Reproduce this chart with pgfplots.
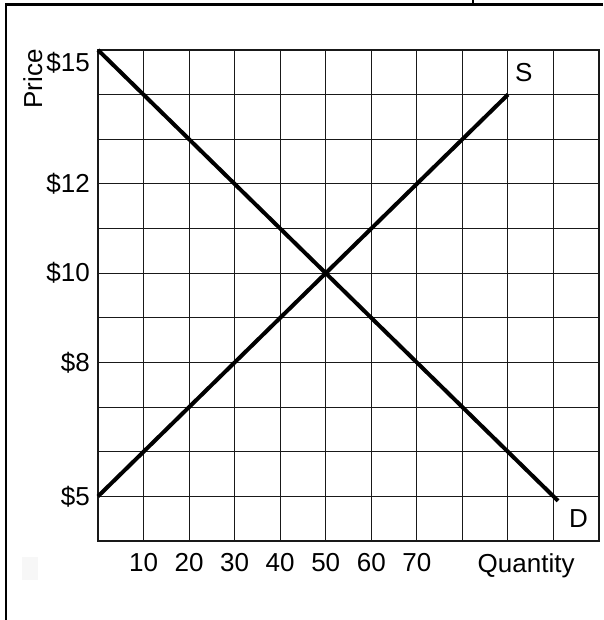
\documentclass[border=0pt]{standalone}
\usepackage{pgfplots}
\pgfplotsset{compat=1.18}
\usepackage{fontspec}
\setmainfont{Liberation Sans}
\newcommand{\bigf}{\fontsize{26}{30}\selectfont}
\begin{document}
\begin{tikzpicture}
\begin{axis}[
  scale only axis,
  width=501pt, height=491pt,
  at={(98pt,79pt)}, anchor=south west,
  xmin=0, xmax=110, ymin=4, ymax=15,
  xtick={10,20,...,100},
  xticklabels={\mbox{10},\mbox{20},\mbox{30},\mbox{40},\mbox{50},\mbox{60},\mbox{70},,,},
  ytick={5,6,...,14},
  yticklabels={\mbox{\$5},,,\mbox{\$8},,\mbox{\$10},,\mbox{\$12},,},
  major tick length=0pt,
  grid=major,
  grid style={black!90, line width=1pt},
  axis line style={black!90, line width=1.1pt},
  tick label style={font=\bigf},
  xticklabel style={anchor=north, inner sep=0pt, yshift=-12pt},
  yticklabel style={anchor=east, inner sep=0pt, xshift=-8pt},
  /pgf/number format/assume math mode=true,
  clip=false,
]
\addplot[black, line width=4pt] coordinates {(0,5) (90,14)};
\addplot[black, line width=4pt] coordinates {(0,15) (101,4.9)};
\node[font=\bigf, anchor=east, inner sep=0pt, xshift=-8pt] at (axis cs:0,14.72) {\$15};
\node[font=\bigf] at (axis cs:93.5,14.5) {S};
\node[font=\bigf] at (axis cs:105.5,4.5) {D};
\node[font=\bigf, anchor=north, inner sep=0pt, yshift=-12pt] at (axis cs:94,4) {Quantity};
\node[font=\bigf, rotate=90, inner sep=0pt] at (axis cs:-14.3,14.35) {Price};
\end{axis}
% page frame decorations
\draw[black, line width=3pt] (6pt,615.5pt) -- (603pt,615.5pt);
\draw[black, line width=2.5pt] (6pt,0pt) -- (6pt,617pt);
\draw[black, line width=2pt] (473pt,615pt) -- (473pt,620pt);
\fill[black!3] (22pt,40pt) rectangle (38pt,63pt);
\pgfresetboundingbox
\path[use as bounding box] (0pt,0pt) rectangle (603pt,620pt);
\end{tikzpicture}
\end{document}
